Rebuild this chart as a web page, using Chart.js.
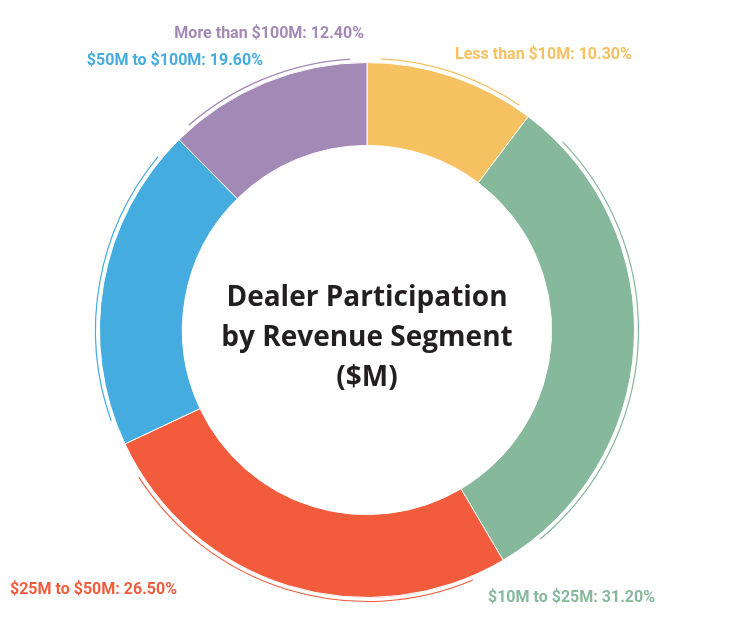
<!DOCTYPE html>
<html>
<head>
<script src="https://cdn.jsdelivr.net/npm/chart.js@4"></script>
<style>
  html, body { margin: 0; background: #fff; }
  #wrap { width: 730px; height: 628px; }
</style>
</head>
<body>
<div id="wrap"><canvas id="donut"></canvas></div>
<script>
// data
const segments = ["Less than $10M", "$10M to $25M", "$25M to $50M", "$50M to $100M", "More than $100M"];
const shares = [10.3, 31.2, 26.5, 19.6, 12.4];
const colors = ["#F6C261", "#86B89C", "#F25C3C", "#45ACDF", "#A389B5"];
const titleLines = ["Dealer Participation", "by Revenue Segment", "($M)"];

// where each label sits, and how it is anchored
const labelSpots = [
  { x: 455, y: 55, align: "left" },
  { x: 488, y: 598, align: "left" },
  { x: 10, y: 590, align: "left" },
  { x: 263, y: 61, align: "right" },
  { x: 364, y: 34, align: "right" }
];

const decorPlugin = {
  id: "decor",
  afterDatasetsDraw(chart) {
    const ctx = chart.ctx;
    const arcs = chart.getDatasetMeta(0).data;
    ctx.save();
    // thin brackets just outside each slice
    arcs.forEach((a, i) => {
      const r = a.outerRadius + 4;
      const pad = (a.endAngle - a.startAngle) * 0.08;
      ctx.strokeStyle = colors[i];
      ctx.lineWidth = 1.2;
      ctx.beginPath();
      ctx.arc(a.x, a.y, r, a.startAngle + pad, a.endAngle - pad);
      ctx.stroke();
    });
    // labels
    ctx.font = "bold 16px Roboto";
    ctx.textBaseline = "middle";
    labelSpots.forEach((p, i) => {
      ctx.fillStyle = colors[i];
      ctx.textAlign = p.align;
      ctx.fillText(segments[i] + ": " + shares[i].toFixed(2) + "%", p.x, p.y);
    });
    // centre title
    const a0 = arcs[0];
    ctx.fillStyle = "#231F20";
    ctx.font = "bold 28px 'Open Sans'";
    ctx.textAlign = "center";
    titleLines.forEach((t, i) => ctx.fillText(t, a0.x, a0.y - 32 + i * 40));
    ctx.restore();
  }
};

new Chart(document.getElementById("donut"), {
  type: "doughnut",
  data: {
    labels: segments,
    datasets: [{
      data: shares,
      backgroundColor: colors,
      borderColor: "#fff",
      borderWidth: 1
    }]
  },
  options: {
    responsive: true,
    maintainAspectRatio: false,
    animation: false,
    cutout: "69%",
    layout: { padding: { top: 62, bottom: 30, left: 99, right: 95 } },
    plugins: { legend: { display: false }, tooltip: { enabled: false } }
  },
  plugins: [decorPlugin]
});
</script>
</body>
</html>
